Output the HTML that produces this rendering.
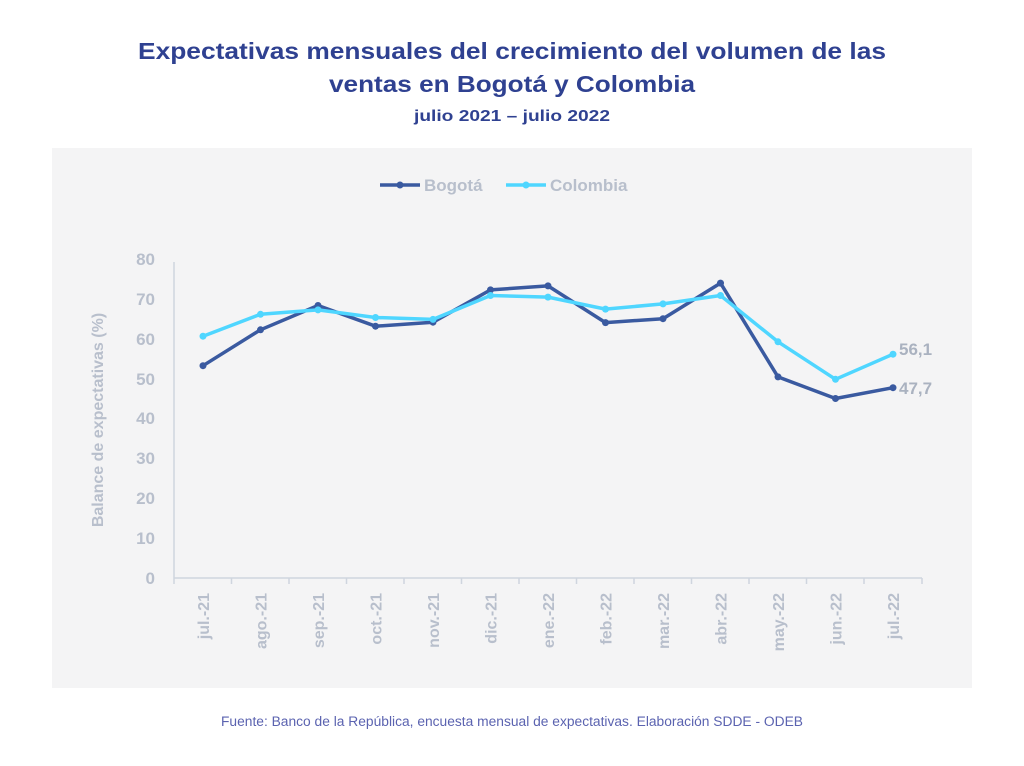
<!DOCTYPE html>
<html><head><meta charset="utf-8"><style>
html,body{margin:0;padding:0;background:#fff;}
svg{display:block;font-family:"Liberation Sans",sans-serif;}
</style></head><body>
<svg width="1024" height="766" viewBox="0 0 1024 766" xmlns="http://www.w3.org/2000/svg">
<rect width="1024" height="766" fill="#fff"/>
<g fill="#2f4191" font-weight="bold" text-anchor="middle">
<text x="512" y="59" font-size="23" textLength="748" lengthAdjust="spacingAndGlyphs">Expectativas mensuales del crecimiento del volumen de las</text>
<text x="512" y="92" font-size="23" textLength="366" lengthAdjust="spacingAndGlyphs">ventas en Bogotá y Colombia</text>
<text x="512" y="121" font-size="16" textLength="196" lengthAdjust="spacingAndGlyphs">julio 2021 – julio 2022</text>
</g>
<rect x="52" y="148" width="920" height="540" fill="#f4f4f5"/>
<line x1="380" y1="185" x2="420" y2="185" stroke="#3a5aa0" stroke-width="3.5"/>
<circle cx="400" cy="185" r="3.5" fill="#3a5aa0"/>
<text x="424" y="191" font-size="17" fill="#b8bfcc" font-weight="bold">Bogotá</text>
<line x1="506" y1="185" x2="546" y2="185" stroke="#4fd6ff" stroke-width="3.5"/>
<circle cx="526" cy="185" r="3.5" fill="#4fd6ff"/>
<text x="550" y="191" font-size="17" fill="#b8bfcc" font-weight="bold">Colombia</text>
<g stroke="#cfd5de" stroke-width="1.5">
<line x1="174" y1="262" x2="174" y2="584"/>
<line x1="174" y1="578" x2="922" y2="578"/>
<line x1="231.5" y1="578" x2="231.5" y2="584"/><line x1="289" y1="578" x2="289" y2="584"/><line x1="346.5" y1="578" x2="346.5" y2="584"/><line x1="404" y1="578" x2="404" y2="584"/><line x1="461.5" y1="578" x2="461.5" y2="584"/><line x1="519" y1="578" x2="519" y2="584"/><line x1="576.5" y1="578" x2="576.5" y2="584"/><line x1="634" y1="578" x2="634" y2="584"/><line x1="691.5" y1="578" x2="691.5" y2="584"/><line x1="749" y1="578" x2="749" y2="584"/><line x1="806.5" y1="578" x2="806.5" y2="584"/><line x1="864" y1="578" x2="864" y2="584"/><line x1="922" y1="578" x2="922" y2="584"/>
</g>
<g fill="#b8bfcc" font-size="17" font-weight="bold" text-anchor="end">
<text x="155" y="265">80</text><text x="155" y="305">70</text><text x="155" y="345">60</text><text x="155" y="385">50</text><text x="155" y="424">40</text><text x="155" y="464">30</text><text x="155" y="504">20</text><text x="155" y="544">10</text><text x="155" y="584">0</text>
</g>
<text transform="translate(103,420) rotate(-90)" text-anchor="middle" font-size="16" font-weight="bold" fill="#b8bfcc">Balance de expectativas (%)</text>
<g fill="#b8bfcc" font-size="16" font-weight="bold" text-anchor="end">
<text transform="translate(209,593) rotate(-90)">jul.-21</text>
<text transform="translate(266.5,593) rotate(-90)">ago.-21</text>
<text transform="translate(324,593) rotate(-90)">sep.-21</text>
<text transform="translate(381.5,593) rotate(-90)">oct.-21</text>
<text transform="translate(439,593) rotate(-90)">nov.-21</text>
<text transform="translate(496.5,593) rotate(-90)">dic.-21</text>
<text transform="translate(554,593) rotate(-90)">ene.-22</text>
<text transform="translate(611.5,593) rotate(-90)">feb.-22</text>
<text transform="translate(669,593) rotate(-90)">mar.-22</text>
<text transform="translate(726.5,593) rotate(-90)">abr.-22</text>
<text transform="translate(784,593) rotate(-90)">may.-22</text>
<text transform="translate(841.5,593) rotate(-90)">jun.-22</text>
<text transform="translate(899,593) rotate(-90)">jul.-22</text>
</g>
<polyline fill="none" stroke="#3a5aa0" stroke-width="3.5" stroke-linejoin="round" points="203,365.7 260.5,329.8 318,305.5 375.5,326.2 433,322.2 490.5,289.9 548,285.9 605.5,322.6 663,318.7 720.5,283.1 778,376.9 835.5,398.5 893,387.7"/>
<polyline fill="none" stroke="#4fd6ff" stroke-width="3.5" stroke-linejoin="round" points="203,336.2 260.5,314.3 318,309.9 375.5,317.5 433,319.4 490.5,295.5 548,297.1 605.5,309.1 663,303.9 720.5,295.5 778,341.8 835.5,379.3 893,354.2"/>
<g fill="#3a5aa0">
<circle cx="203" cy="365.7" r="3.5"/><circle cx="260.5" cy="329.8" r="3.5"/><circle cx="318" cy="305.5" r="3.5"/><circle cx="375.5" cy="326.2" r="3.5"/><circle cx="433" cy="322.2" r="3.5"/><circle cx="490.5" cy="289.9" r="3.5"/><circle cx="548" cy="285.9" r="3.5"/><circle cx="605.5" cy="322.6" r="3.5"/><circle cx="663" cy="318.7" r="3.5"/><circle cx="720.5" cy="283.1" r="3.5"/><circle cx="778" cy="376.9" r="3.5"/><circle cx="835.5" cy="398.5" r="3.5"/><circle cx="893" cy="387.7" r="3.5"/>
</g>
<g fill="#4fd6ff">
<circle cx="203" cy="336.2" r="3.5"/><circle cx="260.5" cy="314.3" r="3.5"/><circle cx="318" cy="309.9" r="3.5"/><circle cx="375.5" cy="317.5" r="3.5"/><circle cx="433" cy="319.4" r="3.5"/><circle cx="490.5" cy="295.5" r="3.5"/><circle cx="548" cy="297.1" r="3.5"/><circle cx="605.5" cy="309.1" r="3.5"/><circle cx="663" cy="303.9" r="3.5"/><circle cx="720.5" cy="295.5" r="3.5"/><circle cx="778" cy="341.8" r="3.5"/><circle cx="835.5" cy="379.3" r="3.5"/><circle cx="893" cy="354.2" r="3.5"/>
</g>
<text x="899" y="355" font-size="17" font-weight="bold" fill="#aab2c0">56,1</text>
<text x="899" y="394" font-size="17" font-weight="bold" fill="#aab2c0">47,7</text>
<text x="512" y="726" text-anchor="middle" font-size="13.5" fill="#5b63b0" textLength="582" lengthAdjust="spacingAndGlyphs">Fuente: Banco de la República, encuesta mensual de expectativas. Elaboración SDDE - ODEB</text>
</svg>
</body></html>
